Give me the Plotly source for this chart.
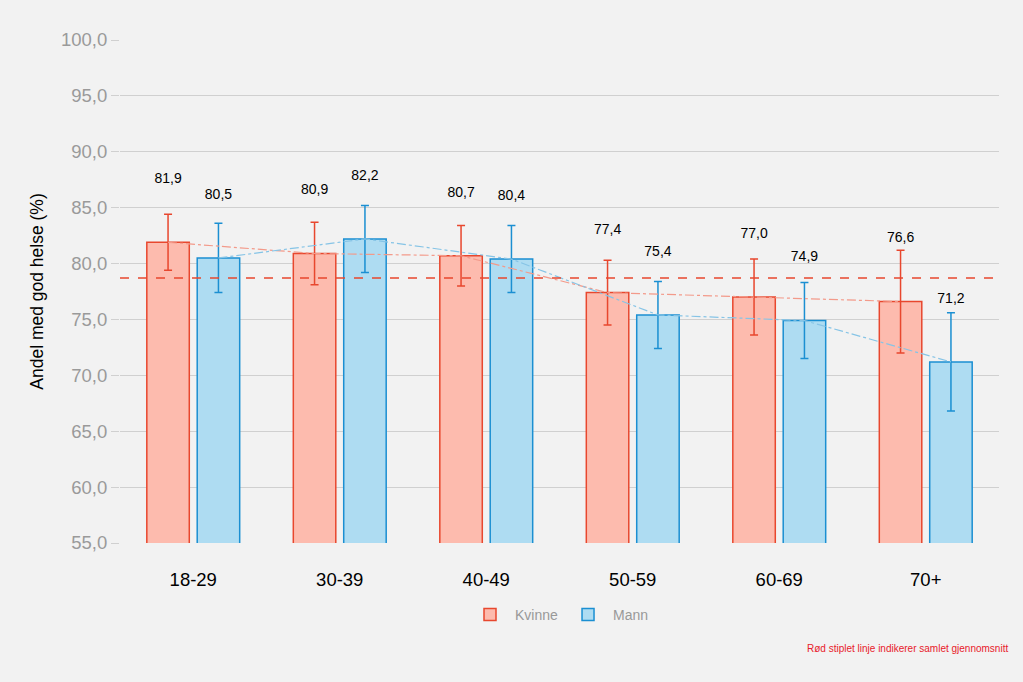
import plotly.graph_objects as go

categories = ["18-29", "30-39", "40-49", "50-59", "60-69", "70+"]
kvinne = [81.9, 80.9, 80.7, 77.4, 77.0, 76.6]
mann = [80.5, 82.2, 80.4, 75.4, 74.9, 71.2]
kvinne_err = [2.5, 2.8, 2.7, 2.9, 3.4, 4.6]
mann_err = [3.1, 3.0, 3.0, 3.0, 3.4, 4.4]
overall_mean = 78.7
y_ticks = [55, 60, 65, 70, 75, 80, 85, 90, 95, 100]

OFF = 0.172
BW = 0.29
LABEL_PAD = 5.6

k_fill, k_line = "#fdbbae", "#e8472e"
m_fill, m_line = "#aedcf2", "#1b8fd2"

idx = list(range(len(categories)))
xk = [i - OFF for i in idx]
xm = [i + OFF for i in idx]

fig = go.Figure()
fig.add_trace(go.Bar(
    x=xk, y=kvinne, width=BW, name="Kvinne",
    marker=dict(color=k_fill, line=dict(color=k_line, width=1.5)),
    error_y=dict(type="data", array=kvinne_err, color=k_line, thickness=1.5, width=4),
))
fig.add_trace(go.Bar(
    x=xm, y=mann, width=BW, name="Mann",
    marker=dict(color=m_fill, line=dict(color=m_line, width=1.5)),
    error_y=dict(type="data", array=mann_err, color=m_line, thickness=1.5, width=4),
))
fig.add_trace(go.Scatter(
    x=xk, y=kvinne, mode="lines", showlegend=False, hoverinfo="skip",
    line=dict(color="#f39a8a", width=1.2, dash="dashdot"),
))
fig.add_trace(go.Scatter(
    x=xm, y=mann, mode="lines", showlegend=False, hoverinfo="skip",
    line=dict(color="#86c4e6", width=1.2, dash="dashdot"),
))
fig.add_trace(go.Scatter(
    x=xk + xm, y=[v + LABEL_PAD for v in kvinne + mann],
    text=[f"{v:.1f}".replace(".", ",") for v in kvinne + mann],
    mode="text", showlegend=False, hoverinfo="skip",
    textfont=dict(color="black", size=14, family="Liberation Sans, Arial, sans-serif"),
))
fig.add_hline(y=overall_mean, line=dict(color="#e8472e", width=1.5, dash="dash"))

fig.add_annotation(
    text="Rød stiplet linje indikerer samlet gjennomsnitt",
    xref="paper", yref="paper", x=1.012, y=-0.209, xanchor="right", yanchor="middle",
    showarrow=False, font=dict(color="#e8202a", size=10),
)

fig.update_layout(
    width=1023, height=682,
    paper_bgcolor="#f2f2f2", plot_bgcolor="#f2f2f2",
    margin=dict(l=120, r=24, t=40, b=139),
    font=dict(family="Liberation Sans, Arial, sans-serif"),
    separators=",.",
    showlegend=True,
    legend=dict(orientation="h", x=0.5, xanchor="center", y=-0.143, yanchor="middle",
                font=dict(color="#999999", size=14), itemwidth=40, bgcolor="rgba(0,0,0,0)"),
    xaxis=dict(
        range=[-0.5, 5.5], tickvals=idx, ticktext=categories,
        showgrid=False, zeroline=False, showline=False,
        tickfont=dict(color="black", size=18.5), ticks="outside", ticklen=20,
        tickcolor="rgba(0,0,0,0)",
    ),
    yaxis=dict(
        range=[55, 100], tickvals=y_ticks, tickformat=".1f",
        showgrid=True, gridcolor="#d0d0d0", gridwidth=1, zeroline=False, showline=False,
        ticks="outside", ticklen=8, tickcolor="#d0d0d0",
        tickfont=dict(color="#9a9a9a", size=18.5),
        title=dict(text="Andel med god helse (%)", font=dict(color="black", size=17.5), standoff=12),
    ),
)

fig.write_html(
    "out.html",
    config={"displayModeBar": False},
    post_script="document.body.style.margin='0';document.body.style.background='#f2f2f2';",
)
